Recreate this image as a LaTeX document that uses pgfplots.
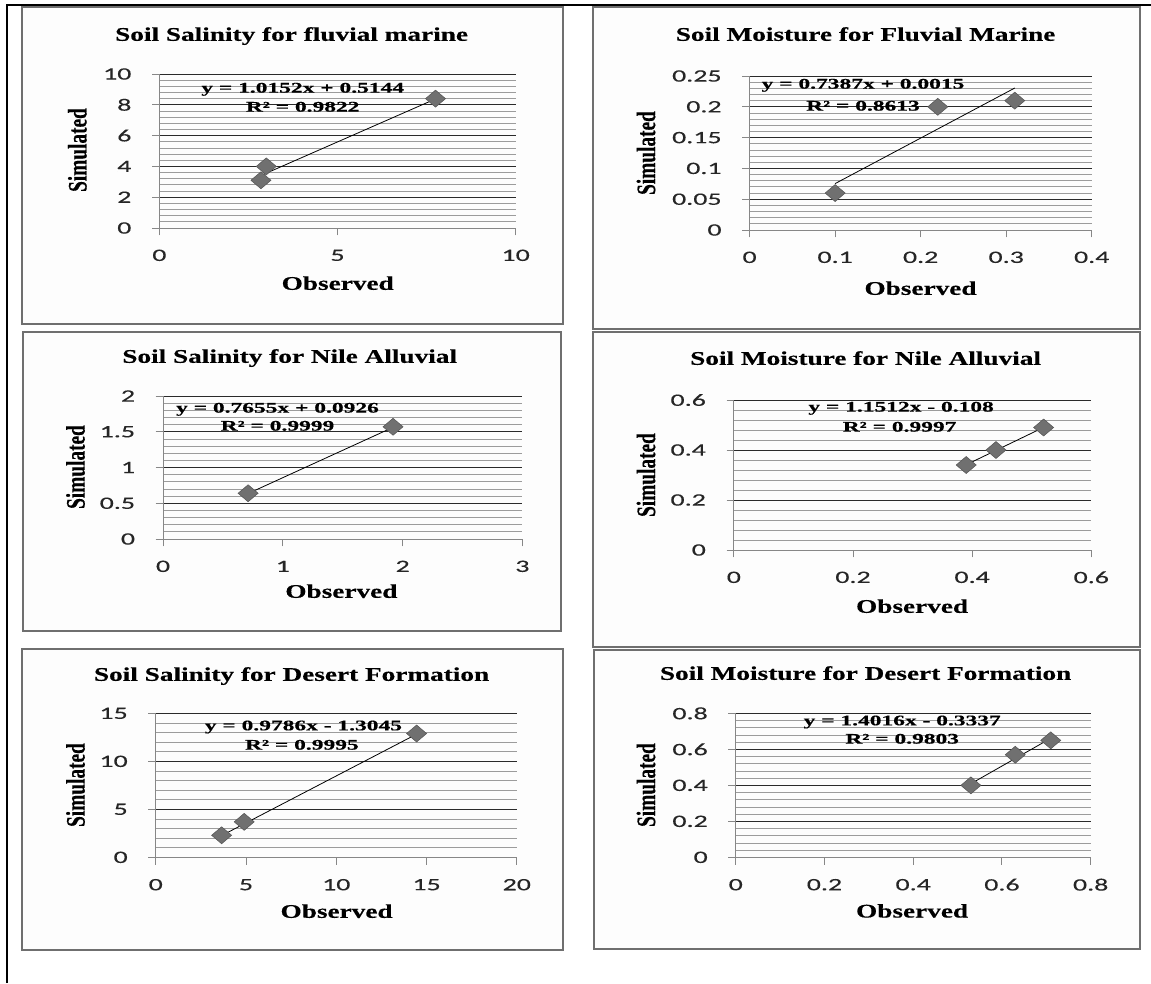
\documentclass[border=0pt]{standalone}
\usepackage{pgfplots}
\pgfplotsset{compat=1.18}
\usepackage{fontspec}
\setmainfont{Liberation Serif}
\newfontfamily\capfont[FakeStretch=1.41, FakeBold=0.4]{Liberation Serif}
\newfontfamily\eqfont[FakeStretch=1.6, FakeBold=0.3]{Liberation Serif}
\newfontfamily\labfont[FakeBold=0.4]{Liberation Serif}
\newfontfamily\numfont[FakeStretch=1.61, FakeBold=0.25]{Carlito}

\definecolor{framegray}{HTML}{6F6F6F}
\definecolor{panelfill}{HTML}{FDFDFD}
\definecolor{axisgray}{HTML}{878787}
\definecolor{majgrid}{HTML}{2A2A2A}
\definecolor{mingrid}{HTML}{9C9C9C}
\definecolor{markfill}{HTML}{707070}
\definecolor{markedge}{HTML}{555555}

\pgfplotsset{
  panel/.style={
    scale only axis,
    axis lines*=left,
    axis line style={draw=axisgray, line width=0.75pt},
    tick style={draw=axisgray, line width=0.75pt},
    tick align=outside,
    major tick length=5.5pt,
    minor tick length=0pt,
    ymajorgrids, yminorgrids,
    minor y tick num=4,
    major grid style={draw=majgrid, line width=0.75pt},
    minor grid style={draw=mingrid, line width=0.6pt},
    tick label style={font=\numfont\fontsize{13pt}{15pt}\selectfont, text=black!85},
    yticklabel style={anchor=east, inner sep=0pt, xshift=-15.3pt},
    xticklabel style={anchor=center, inner sep=0pt, yshift=-15pt},
    /pgf/number format/assume math mode=true,
    clip=false,
  },
  obs/.style={only marks, mark=square*, mark size=4.5pt,
    mark options={xscale=1.18, rotate=45, fill=markfill, draw=markedge, line width=0.4pt}},
  fit/.style={black, line width=0.6pt, no marks},
}

\tikzset{
  ttl/.style={inner sep=0pt, anchor=base, font=\capfont\bfseries\fontsize{14.5pt}{16pt}\selectfont},
  eqn/.style={inner sep=0pt, anchor=base, font=\eqfont\bfseries\fontsize{11pt}{12pt}\selectfont},
  ylab/.style={inner sep=0pt, anchor=center},
}
\newcommand{\ylabtext}{\scalebox{1.38}[1]{\rotatebox{90}{\labfont\bfseries\fontsize{14.5pt}{16pt}\selectfont Simulated}}}

\begin{document}
\begin{tikzpicture}

% table rules behind the chart frames
\begin{scope}[x=0.75pt, y=-0.75pt]
  \path (0,0) rectangle (1151,983);
  \draw[black, line width=1.5pt] (6.5,983) -- (6.5,5) -- (1151,5);
\end{scope}

% panel frames
\begin{scope}[x=0.75pt, y=-0.75pt]
  \draw[framegray, line width=1.5pt, fill=panelfill] (22,7) rectangle (563,323.5);
  \draw[framegray, line width=1.5pt, fill=panelfill] (593,7) rectangle (1140,328.5);
  \draw[framegray, line width=1.5pt, fill=panelfill] (23,332) rectangle (561,631);
  \draw[framegray, line width=1.5pt, fill=panelfill] (593,332) rectangle (1140,647);
  \draw[framegray, line width=1.5pt, fill=panelfill] (22,649) rectangle (563,950);
  \draw[framegray, line width=1.5pt, fill=panelfill] (594,650) rectangle (1140,949);
\end{scope}

% Soil salinity, fluvial marine
\begin{axis}[panel, at={(119.55pt,-171pt)}, anchor=south west,
  width=267.2pt, height=115.5pt,
  xmin=0, xmax=10, ymin=0, ymax=10,
  xtick={0,5,10}, xticklabels={0,5,10},
  ytick={0,2,4,6,8,10}, yticklabels={0,2,4,6,8,10}]
  \addplot[obs] coordinates {(2.85,3.1) (3.0,4.0) (7.75,8.4)};
  \addplot[fit] coordinates {(2.85,3.4077) (7.75,8.3822)};
\end{axis}

% Soil moisture, fluvial marine
\begin{axis}[panel, at={(562.2pt,-172.5pt)}, anchor=south west,
  width=256.6pt, height=115.5pt,
  xmin=0, xmax=0.4, ymin=0, ymax=0.25,
  xtick={0,0.1,0.2,0.3,0.4}, xticklabels={0,0.1,0.2,0.3,0.4},
  ytick={0,0.05,0.1,0.15,0.2,0.25}, yticklabels={0,0.05,0.1,0.15,0.2,0.25}]
  \addplot[obs] coordinates {(0.1,0.06) (0.22,0.2) (0.31,0.21)};
  \addplot[fit] coordinates {(0.1,0.07537) (0.31,0.23050)};
\end{axis}

% Soil salinity, Nile alluvial
\begin{axis}[panel, at={(122.3pt,-404.25pt)}, anchor=south west,
  width=269.5pt, height=107.25pt,
  xmin=0, xmax=3, ymin=0, ymax=2,
  xtick={0,1,2,3}, xticklabels={0,1,2,3},
  ytick={0,0.5,1,1.5,2}, yticklabels={0,0.5,1,1.5,2}]
  \addplot[obs] coordinates {(0.71,0.64) (1.92,1.57)};
  \addplot[fit] coordinates {(0.71,0.6361) (1.92,1.5624)};
\end{axis}

% Soil moisture, Nile alluvial
\begin{axis}[panel, at={(550.4pt,-412.5pt)}, anchor=south west,
  width=268.05pt, height=112.5pt,
  xmin=0, xmax=0.6, ymin=0, ymax=0.6,
  xtick={0,0.2,0.4,0.6}, xticklabels={0,0.2,0.4,0.6},
  ytick={0,0.2,0.4,0.6}, yticklabels={0,0.2,0.4,0.6}]
  \addplot[obs] coordinates {(0.39,0.34) (0.44,0.40) (0.52,0.49)};
  \addplot[fit] coordinates {(0.39,0.3410) (0.52,0.4906)};
\end{axis}

% Soil salinity, desert formation
\begin{axis}[panel, at={(116.8pt,-643pt)}, anchor=south west,
  width=270.8pt, height=108pt,
  xmin=0, xmax=20, ymin=0, ymax=15,
  xtick={0,5,10,15,20}, xticklabels={0,5,10,15,20},
  ytick={0,5,10,15}, yticklabels={0,5,10,15}]
  \addplot[obs] coordinates {(3.65,2.3) (4.9,3.7) (14.45,12.9)};
  \addplot[fit] coordinates {(3.65,2.2674) (14.45,12.8363)};
\end{axis}

% Soil moisture, desert formation
\begin{axis}[panel, at={(551.8pt,-643pt)}, anchor=south west,
  width=266.2pt, height=108pt,
  xmin=0, xmax=0.8, ymin=0, ymax=0.8,
  xtick={0,0.2,0.4,0.6,0.8}, xticklabels={0,0.2,0.4,0.6,0.8},
  ytick={0,0.2,0.4,0.6,0.8}, yticklabels={0,0.2,0.4,0.6,0.8}]
  \addplot[obs] coordinates {(0.53,0.40) (0.63,0.57) (0.71,0.65)};
  \addplot[fit] coordinates {(0.53,0.4091) (0.71,0.6614)};
\end{axis}

% titles, axis labels and trendline equations
\begin{scope}[x=0.75pt, y=-0.75pt]
  \node[ttl] at (291.6,40.8) {Soil Salinity for fluvial marine};
  \node[ttl] at (865.6,40.8) {Soil Moisture for Fluvial Marine};
  \node[ttl] at (289.7,362.8) {Soil Salinity for Nile Alluvial};
  \node[ttl] at (865.6,364.8) {Soil Moisture for Nile Alluvial};
  \node[ttl] at (291.6,680.8) {Soil Salinity for Desert Formation};
  \node[ttl] at (865.6,679.8) {Soil Moisture for Desert Formation};

  \node[ttl] at (337.7,289.8) {Observed};
  \node[ttl] at (920.5,294.8) {Observed};
  \node[ttl] at (341.4,597.8) {Observed};
  \node[ttl] at (912.1,612.8) {Observed};
  \node[ttl] at (336.6,917.8) {Observed};
  \node[ttl] at (912.1,917.5) {Observed};

  \node[ylab] at (77.4,150) {\ylabtext};
  \node[ylab] at (646,153) {\ylabtext};
  \node[ylab] at (75.5,467) {\ylabtext};
  \node[ylab] at (646,475) {\ylabtext};
  \node[ylab] at (75.5,785) {\ylabtext};
  \node[ylab] at (646,785) {\ylabtext};

  \node[eqn] at (302.7,92.6) {y = 1.0152x + 0.5144};
  \node[eqn] at (302.7,111.6) {R² = 0.9822};
  \node[eqn] at (863,88.6) {y = 0.7387x + 0.0015};
  \node[eqn] at (863,110.6) {R² = 0.8613};
  \node[eqn] at (277.5,412.6) {y = 0.7655x + 0.0926};
  \node[eqn] at (277.5,430.6) {R² = 0.9999};
  \node[eqn] at (901.1,411.6) {y = 1.1512x - 0.108};
  \node[eqn] at (899.6,431.6) {R² = 0.9997};
  \node[eqn] at (303.4,730.3) {y = 0.9786x - 1.3045};
  \node[eqn] at (301.9,749.6) {R² = 0.9995};
  \node[eqn] at (902.2,725.3) {y = 1.4016x - 0.3337};
  \node[eqn] at (902.2,743.6) {R² = 0.9803};
\end{scope}

\pgfresetboundingbox
\path (0pt,0pt) rectangle (863.25pt,-737.25pt);
\end{tikzpicture}
\end{document}
